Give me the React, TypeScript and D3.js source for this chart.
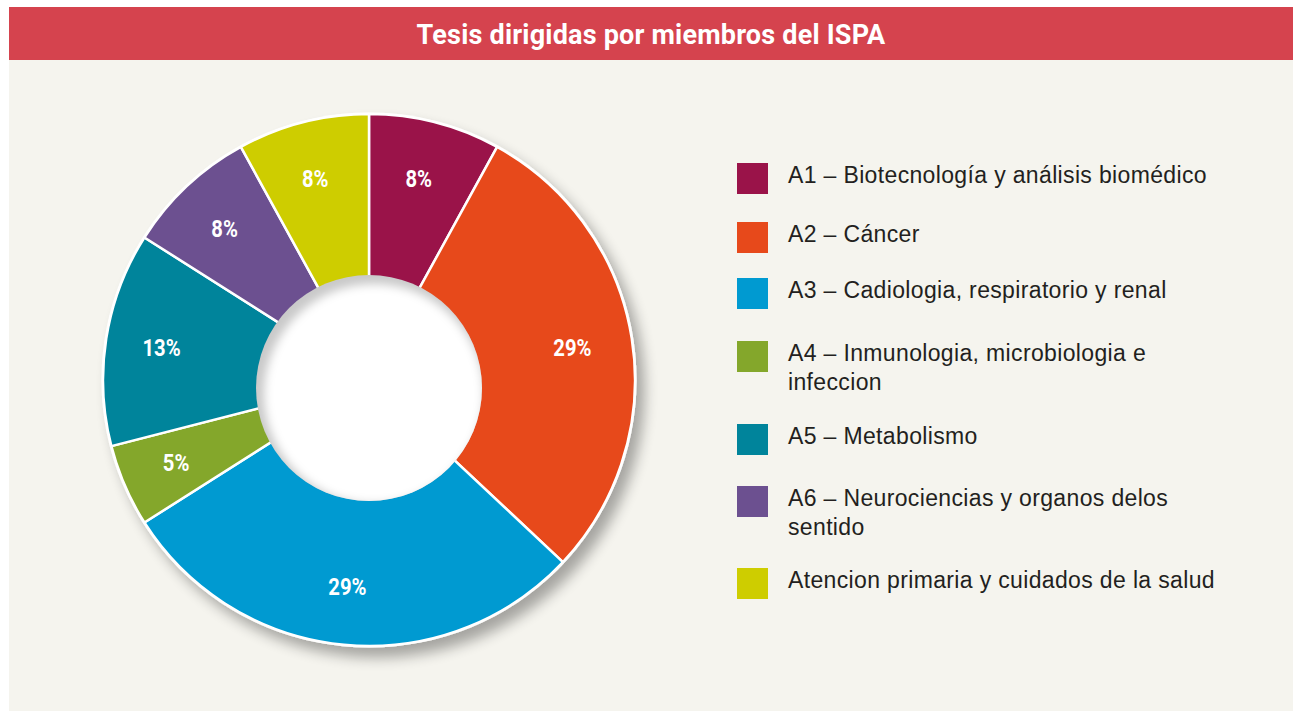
import { useEffect, useRef } from 'react';
import * as d3 from 'd3';

const categories = [
  'A1 – Biotecnología y análisis biomédico',
  'A2 – Cáncer',
  'A3 – Cadiologia, respiratorio y renal',
  'A4 – Inmunologia, microbiologia e infeccion',
  'A5 – Metabolismo',
  'A6 – Neurociencias y organos delos sentido',
  'Atencion primaria y cuidados de la salud',
];
const legendLines = [
  ['A1 – Biotecnología y análisis biomédico'],
  ['A2 – Cáncer'],
  ['A3 – Cadiologia, respiratorio y renal'],
  ['A4 – Inmunologia, microbiologia e', 'infeccion'],
  ['A5 – Metabolismo'],
  ['A6 – Neurociencias y organos delos', 'sentido'],
  ['Atencion primaria y cuidados de la salud'],
];
const values = [8, 29, 29, 5, 13, 8, 8];
const colors = ['#9a1349', '#e7491b', '#009ad1', '#84a72b', '#00849b', '#6c5090', '#cecd00'];

const W = 1293;
const H = 711;

export default function App() {
  const ref = useRef<SVGSVGElement>(null);

  useEffect(() => {
    const svg = d3.select(ref.current);
    svg.selectAll('*').remove();

    const defs = svg.append('defs');
    const shadow = defs.append('filter').attr('id', 'dshadow')
      .attr('x', '-20%').attr('y', '-20%').attr('width', '140%').attr('height', '140%');
    shadow.append('feGaussianBlur').attr('in', 'SourceAlpha').attr('stdDeviation', 7);
    shadow.append('feOffset').attr('dx', 8).attr('dy', 10).attr('result', 'o');
    shadow.append('feComponentTransfer').call((f) =>
      f.append('feFuncA').attr('type', 'linear').attr('slope', 0.33));
    const mg = shadow.append('feMerge');
    mg.append('feMergeNode');
    mg.append('feMergeNode').attr('in', 'SourceGraphic');

    const blur = defs.append('filter').attr('id', 'soft')
      .attr('x', '-20%').attr('y', '-20%').attr('width', '140%').attr('height', '140%');
    blur.append('feGaussianBlur').attr('stdDeviation', 5);

    const cx = 369;
    const cy = 380;
    const outerR = 266;
    const holeX = 369;
    const holeY = 388;
    const holeR = 113;

    defs.append('clipPath').attr('id', 'holeclip')
      .append('circle').attr('cx', holeX).attr('cy', holeY).attr('r', holeR);

    // background panels
    svg.append('rect').attr('x', 9).attr('y', 60).attr('width', W - 9).attr('height', H - 60)
      .attr('fill', '#f5f4ee');
    svg.append('rect').attr('x', 9).attr('y', 7).attr('width', W - 9).attr('height', 53)
      .attr('fill', '#d5434e');
    svg.append('text').attr('x', (9 + W) / 2).attr('y', 44)
      .attr('text-anchor', 'middle').attr('fill', '#fff')
      .attr('font-family', 'Roboto, "Liberation Sans", sans-serif')
      .attr('font-weight', 700).attr('font-size', 27)
      .attr('letter-spacing', 0.2)
      .text('Tesis dirigidas por miembros del ISPA');

    const data = values.map((v, i) => ({ label: categories[i], value: v, color: colors[i] }));
    const pieGen = d3.pie<any>().value((d) => d.value).sort(null);
    const arcGen = d3.arc<any>().innerRadius(60).outerRadius(outerR);
    const labelArc = d3.arc<any>().innerRadius(208).outerRadius(208);

    const g = svg.append('g').attr('transform', `translate(${cx},${cy})`);
    g.append('circle').attr('r', outerR + 1.5).attr('fill', '#fff').attr('filter', 'url(#dshadow)');

    const arcs = g.selectAll('g.slice').data(pieGen(data)).enter().append('g').attr('class', 'slice');
    arcs.append('path').attr('d', arcGen).attr('fill', (d) => d.data.color)
      .attr('stroke', '#fff').attr('stroke-width', 2.5).attr('stroke-linejoin', 'round');

    // hole with inset shading
    svg.append('circle').attr('cx', holeX).attr('cy', holeY).attr('r', holeR).attr('fill', '#c9c9c9');
    svg.append('g').attr('clip-path', 'url(#holeclip)')
      .append('circle').attr('cx', holeX + 5).attr('cy', holeY + 6).attr('r', holeR - 3)
      .attr('fill', '#fff').attr('filter', 'url(#soft)');

    arcs.append('text')
      .attr('transform', (d) => {
        const [x, y] = labelArc.centroid(d);
        return `translate(${x - 2},${y}) scale(0.88,1)`;
      })
      .attr('text-anchor', 'middle').attr('dy', '0.36em')
      .attr('fill', '#fff')
      .attr('font-family', 'Roboto, "Liberation Sans", sans-serif')
      .attr('font-weight', 700).attr('font-size', 23)
      .text((d) => `${d.data.value}%`);

    // legend
    const rowTops = [163, 222, 278, 341, 424, 486, 568];
    const leg = svg.append('g');
    legendLines.forEach((lines, i) => {
      const y0 = rowTops[i];
      leg.append('rect').attr('x', 737).attr('y', y0).attr('width', 31).attr('height', 31)
        .attr('fill', colors[i]);
      const t = leg.append('text').attr('x', 788).attr('y', y0 + 20)
        .attr('fill', '#231f20').attr('font-size', 23)
        .attr('letter-spacing', 0.35)
        .attr('font-family', '"Liberation Sans", Arial, sans-serif');
      lines.forEach((ln, j) => {
        t.append('tspan').attr('x', 788).attr('dy', j === 0 ? 0 : 29).text(ln);
      });
    });
  }, []);

  return (
    <svg ref={ref} width={W} height={H}
      style={{ position: 'absolute', left: 0, top: 0, display: 'block' }} />
  );
}
